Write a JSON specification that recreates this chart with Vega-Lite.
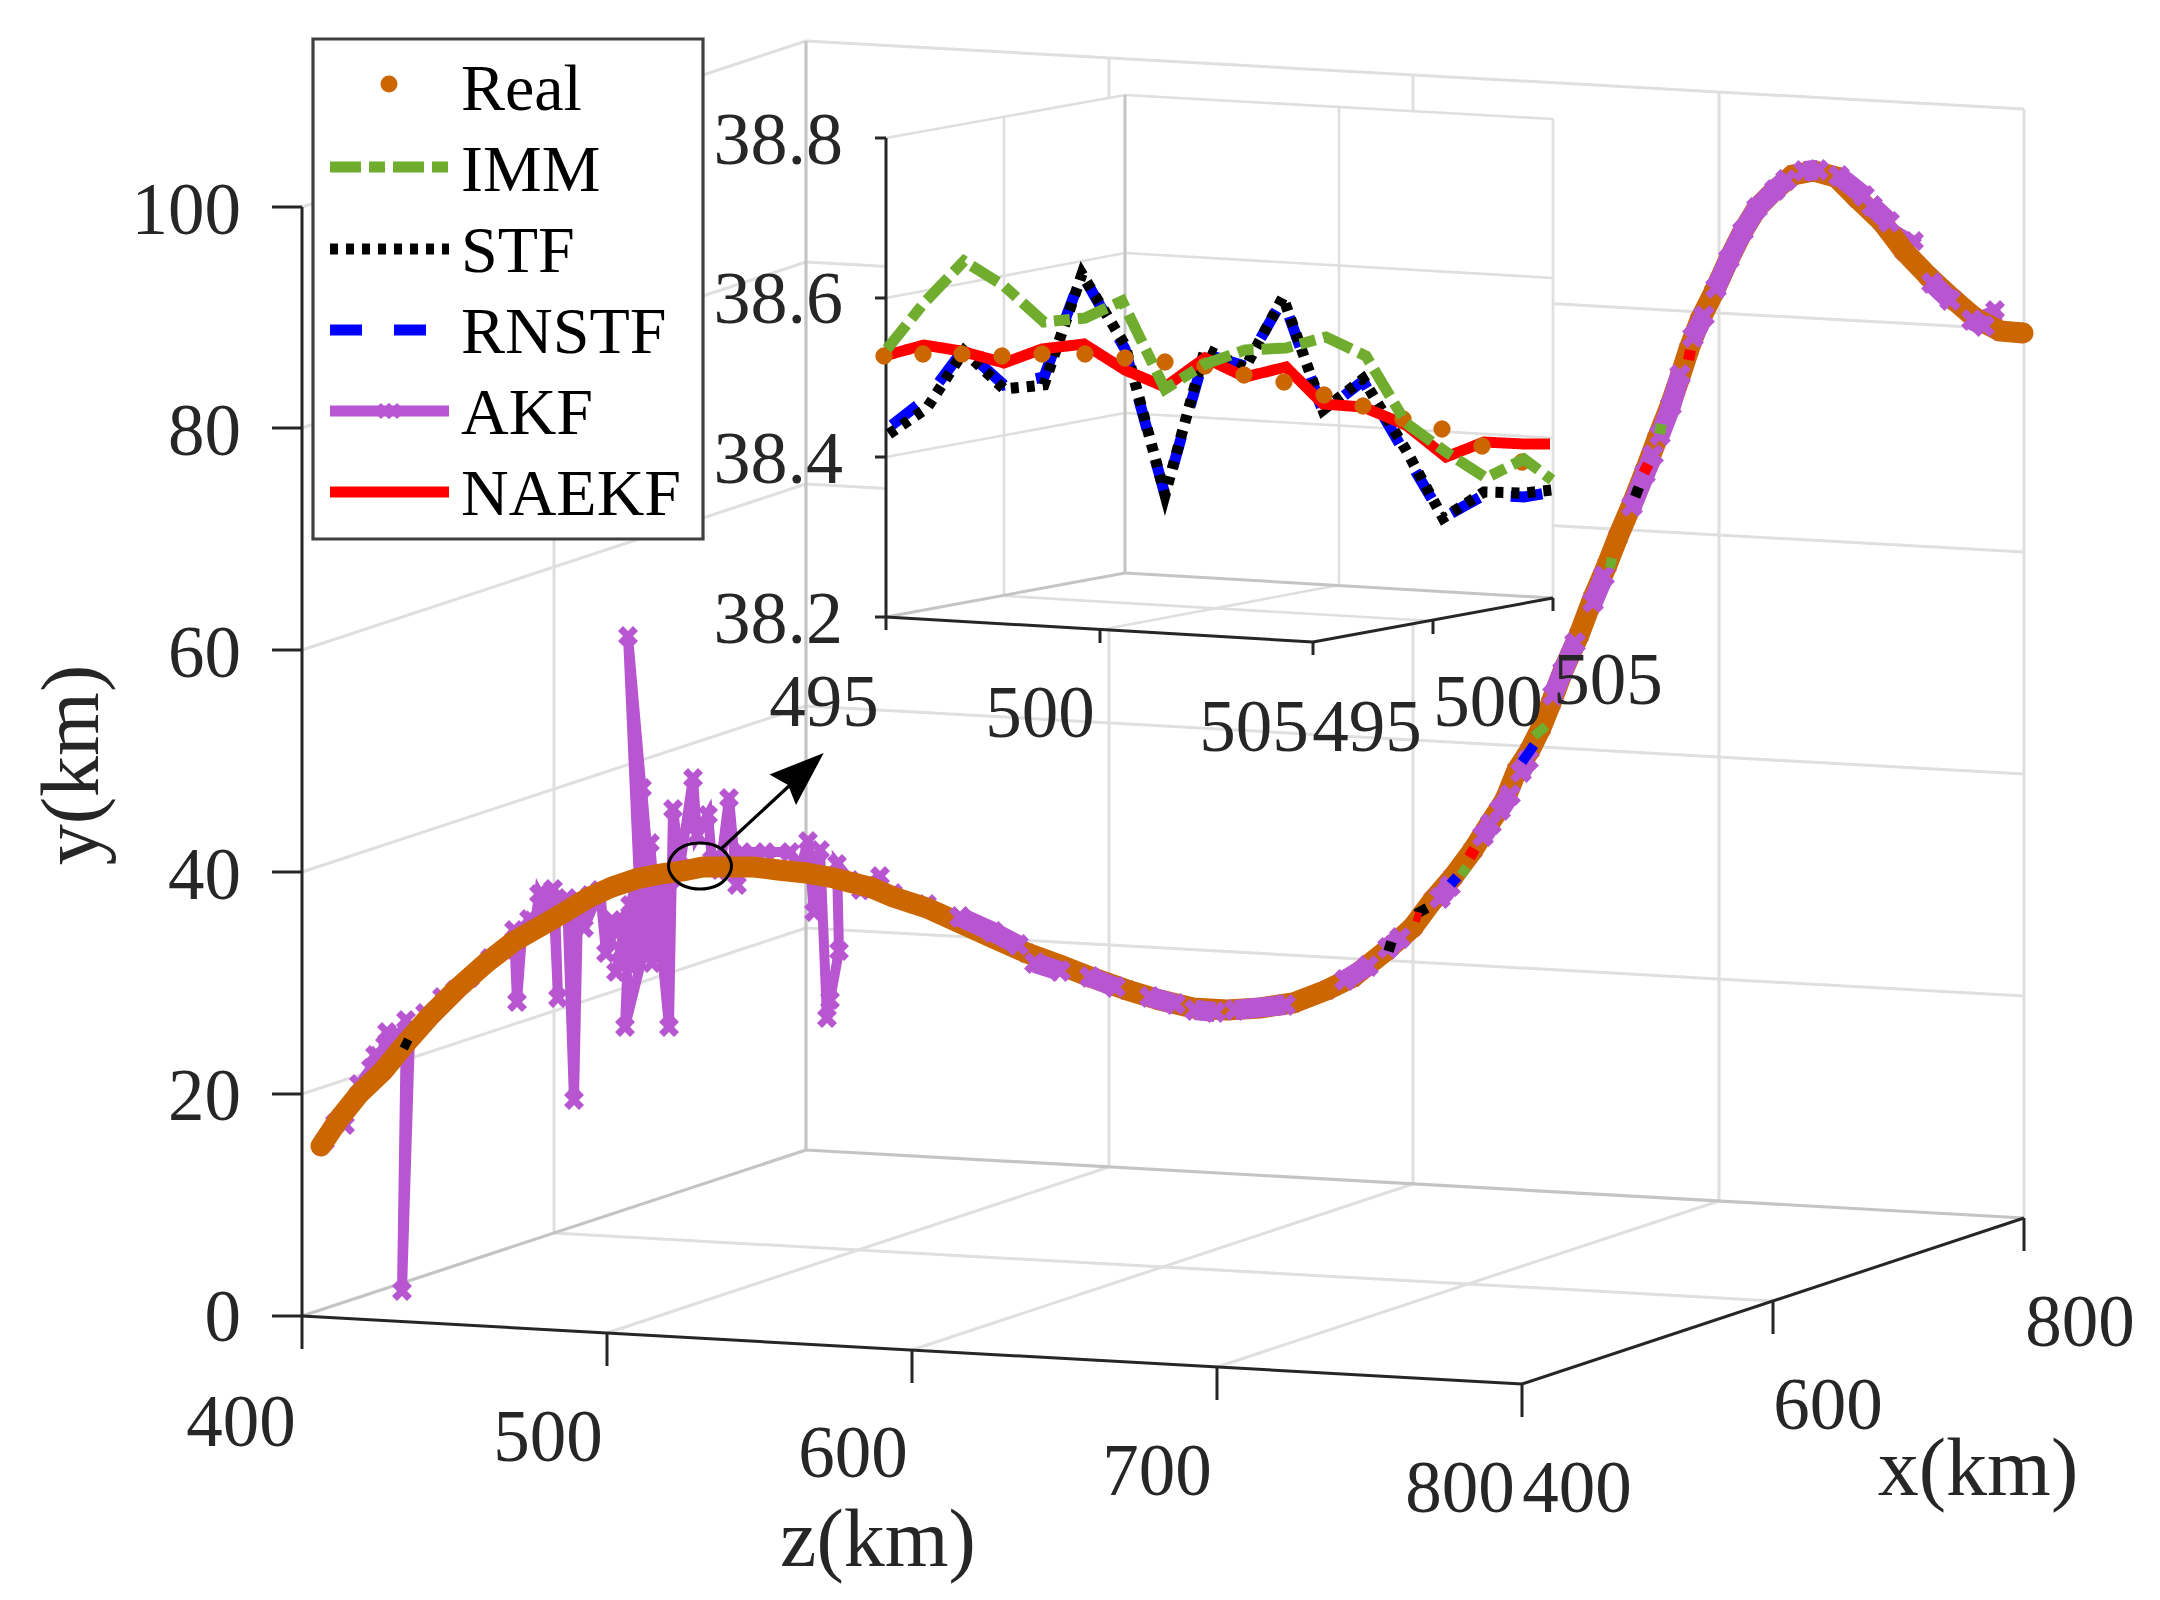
{"$schema":"https://vega.github.io/schema/vega-lite/v6.json","width":2160,"height":1600,"padding":0,"autosize":{"type":"fit","contains":"padding"},"background":"white","view":{"stroke":null},
"datasets":{
"grid":[{"u":302,"v":1094,"u2":806,"v2":928},{"u":302,"v":872,"u2":806,"v2":706},{"u":302,"v":650,"u2":806,"v2":484},{"u":302,"v":428,"u2":806,"v2":262},{"u":302,"v":207,"u2":806,"v2":41},{"u":806,"v":928,"u2":2024,"v2":996},{"u":806,"v":706,"u2":2024,"v2":774},{"u":806,"v":484,"u2":2024,"v2":552},{"u":806,"v":262,"u2":2024,"v2":330},{"u":806,"v":41,"u2":2024,"v2":109},{"u":554,"v":1233,"u2":554,"v2":124},{"u":1109,"v":1167,"u2":1109,"v2":58},{"u":1413,"v":1184,"u2":1413,"v2":75},{"u":1719,"v":1201,"u2":1719,"v2":92},{"u":2024,"v":1218,"u2":2024,"v2":109},{"u":554,"v":1233,"u2":1773,"v2":1301},{"u":607,"v":1333,"u2":1109,"v2":1167},{"u":912,"v":1350,"u2":1413,"v2":1184},{"u":1217,"v":1367,"u2":1719,"v2":1201}],
"edge":[{"u":302,"v":1316,"u2":806,"v2":1150},{"u":806,"v":1150,"u2":2024,"v2":1218},{"u":806,"v":1150,"u2":806,"v2":41}],
"axis":[{"u":302,"v":1316,"u2":302,"v2":207},{"u":302,"v":1316,"u2":1522,"v2":1384},{"u":1522,"v":1384,"u2":2024,"v2":1218},{"u":272,"v":1316,"u2":302,"v2":1316},{"u":272,"v":1094,"u2":302,"v2":1094},{"u":272,"v":872,"u2":302,"v2":872},{"u":272,"v":650,"u2":302,"v2":650},{"u":272,"v":428,"u2":302,"v2":428},{"u":272,"v":207,"u2":302,"v2":207},{"u":302,"v":1316,"u2":302,"v2":1349},{"u":607,"v":1333,"u2":607,"v2":1366},{"u":912,"v":1350,"u2":912,"v2":1383},{"u":1217,"v":1367,"u2":1217,"v2":1400},{"u":1522,"v":1384,"u2":1522,"v2":1417},{"u":1773,"v":1301,"u2":1773,"v2":1334},{"u":2024,"v":1218,"u2":2024,"v2":1251}],
"akf":[{"u":325,"v":1141},{"u":335,"v":1123},{"u":345,"v":1125},{"u":359,"v":1084},{"u":371,"v":1068},{"u":375,"v":1055},{"u":380,"v":1060},{"u":387,"v":1032},{"u":385,"v":1045},{"u":395,"v":1035},{"u":400,"v":1042},{"u":406,"v":1020},{"u":402,"v":1291},{"u":410,"v":1035},{"u":425,"v":1013},{"u":442,"v":997},{"u":455,"v":990},{"u":470,"v":978},{"u":490,"v":958},{"u":505,"v":950},{"u":514,"v":930},{"u":517,"v":1002},{"u":522,"v":935},{"u":529,"v":919},{"u":535,"v":925},{"u":539,"v":894},{"u":545,"v":905},{"u":548,"v":925},{"u":553,"v":889},{"u":558,"v":998},{"u":555,"v":905},{"u":560,"v":915},{"u":567,"v":898},{"u":574,"v":1100},{"u":578,"v":910},{"u":590,"v":895},{"u":584,"v":928},{"u":600,"v":890},{"u":606,"v":953},{"u":612,"v":920},{"u":610,"v":940},{"u":640,"v":890},{"u":622,"v":960},{"u":616,"v":972},{"u":625,"v":925},{"u":632,"v":945},{"u":660,"v":885},{"u":625,"v":1027},{"u":630,"v":905},{"u":636,"v":885},{"u":636,"v":963},{"u":645,"v":955},{"u":650,"v":885},{"u":628,"v":636},{"u":642,"v":950},{"u":640,"v":930},{"u":642,"v":788},{"u":655,"v":945},{"u":660,"v":955},{"u":650,"v":843},{"u":650,"v":920},{"u":652,"v":963},{"u":660,"v":930},{"u":670,"v":880},{"u":662,"v":953},{"u":669,"v":1027},{"u":673,"v":809},{"u":680,"v":866},{"u":693,"v":778},{"u":697,"v":835},{"u":708,"v":815},{"u":712,"v":860},{"u":720,"v":870},{"u":729,"v":798},{"u":737,"v":885},{"u":742,"v":852},{"u":765,"v":852},{"u":790,"v":852},{"u":800,"v":870},{"u":808,"v":841},{"u":814,"v":912},{"u":820,"v":850},{"u":827,"v":1018},{"u":830,"v":1000},{"u":839,"v":951},{"u":837,"v":864},{"u":850,"v":880},{"u":861,"v":890},{"u":880,"v":876},{"u":870,"v":890},{"u":893,"v":893},{"u":927,"v":904},{"u":960,"v":918},{"u":993,"v":932},{"u":1027,"v":953},{"u":1060,"v":970},{"u":1093,"v":978},{"u":1127,"v":990},{"u":1160,"v":1000},{"u":1193,"v":1008},{"u":1227,"v":1010},{"u":1260,"v":1008},{"u":1293,"v":1003},{"u":1327,"v":990},{"u":1353,"v":977},{"u":1387,"v":950},{"u":1413,"v":927},{"u":1433,"v":900},{"u":1453,"v":877},{"u":1473,"v":850},{"u":1490,"v":823},{"u":1505,"v":800},{"u":1517,"v":770},{"u":1530,"v":750},{"u":1541,"v":728},{"u":1551,"v":703},{"u":1563,"v":671},{"u":1579,"v":635},{"u":1593,"v":598},{"u":1607,"v":565},{"u":1618,"v":537},{"u":1632,"v":504},{"u":1645,"v":471},{"u":1657,"v":439},{"u":1670,"v":406},{"u":1680,"v":377},{"u":1689,"v":349},{"u":1700,"v":320},{"u":1714,"v":292},{"u":1729,"v":259},{"u":1743,"v":231},{"u":1757,"v":208},{"u":1775,"v":190},{"u":1793,"v":175},{"u":1814,"v":171},{"u":1836,"v":177},{"u":1857,"v":198},{"u":1882,"v":222},{"u":1914,"v":241},{"u":1904,"v":251},{"u":1929,"v":277},{"u":1954,"v":300},{"u":1975,"v":318},{"u":1995,"v":310},{"u":2000,"v":331},{"u":2018,"v":332}],
"real":[{"u":321,"v":1146},{"u":339,"v":1119},{"u":359,"v":1094},{"u":383,"v":1071},{"u":406,"v":1043},{"u":430,"v":1016},{"u":458,"v":988},{"u":486,"v":963},{"u":513,"v":942},{"u":541,"v":926},{"u":565,"v":912},{"u":588,"v":898},{"u":612,"v":887},{"u":636,"v":879},{"u":660,"v":874},{"u":683,"v":871},{"u":703,"v":867},{"u":727,"v":867},{"u":754,"v":867},{"u":778,"v":870},{"u":806,"v":873},{"u":834,"v":878},{"u":861,"v":885},{"u":870,"v":887},{"u":893,"v":897},{"u":927,"v":908},{"u":960,"v":923},{"u":993,"v":938},{"u":1027,"v":953},{"u":1060,"v":965},{"u":1093,"v":978},{"u":1127,"v":990},{"u":1160,"v":1000},{"u":1193,"v":1008},{"u":1227,"v":1010},{"u":1260,"v":1008},{"u":1293,"v":1003},{"u":1327,"v":990},{"u":1353,"v":977},{"u":1387,"v":950},{"u":1413,"v":927},{"u":1433,"v":900},{"u":1453,"v":877},{"u":1473,"v":850},{"u":1490,"v":823},{"u":1505,"v":800},{"u":1517,"v":770},{"u":1530,"v":750},{"u":1541,"v":728},{"u":1551,"v":703},{"u":1563,"v":671},{"u":1579,"v":635},{"u":1593,"v":598},{"u":1607,"v":565},{"u":1618,"v":537},{"u":1632,"v":504},{"u":1645,"v":471},{"u":1657,"v":439},{"u":1670,"v":406},{"u":1680,"v":377},{"u":1689,"v":349},{"u":1700,"v":320},{"u":1714,"v":292},{"u":1729,"v":259},{"u":1743,"v":231},{"u":1757,"v":208},{"u":1775,"v":190},{"u":1793,"v":175},{"u":1814,"v":171},{"u":1836,"v":177},{"u":1857,"v":198},{"u":1882,"v":222},{"u":1904,"v":251},{"u":1929,"v":277},{"u":1954,"v":300},{"u":1975,"v":318},{"u":2000,"v":331},{"u":2023,"v":333}],
"patches":[{"g":"a","u":960,"v":917},{"g":"a","u":993,"v":932},{"g":"a","u":1018,"v":945},{"g":"b","u":1035,"v":963},{"g":"b","u":1060,"v":971},{"g":"c","u":1090,"v":977},{"g":"c","u":1115,"v":987},{"g":"d","u":1150,"v":997},{"g":"d","u":1175,"v":1004},{"g":"e","u":1195,"v":1010},{"g":"e","u":1215,"v":1012},{"g":"f","u":1235,"v":1010},{"g":"f","u":1285,"v":1005},{"g":"g","u":1345,"v":980},{"g":"g","u":1368,"v":966},{"g":"h","u":1388,"v":948},{"g":"h","u":1400,"v":938},{"g":"i","u":1440,"v":898},{"g":"i","u":1450,"v":886},{"g":"j","u":1483,"v":836},{"g":"j","u":1491,"v":824},{"g":"k","u":1500,"v":810},{"g":"k","u":1510,"v":795},{"g":"l","u":1521,"v":772},{"g":"l","u":1528,"v":760},{"g":"m","u":1553,"v":695},{"g":"m","u":1563,"v":671},{"g":"m","u":1575,"v":643},{"g":"n","u":1593,"v":602},{"g":"n","u":1604,"v":576},{"g":"o","u":1632,"v":506},{"g":"o","u":1645,"v":474},{"g":"o","u":1653,"v":455},{"g":"p","u":1660,"v":435},{"g":"p","u":1671,"v":406},{"g":"p","u":1680,"v":375},{"g":"q","u":1693,"v":337},{"g":"q","u":1704,"v":316},{"g":"r","u":1716,"v":288},{"g":"r","u":1729,"v":259},{"g":"r","u":1743,"v":231},{"g":"r","u":1757,"v":208},{"g":"r","u":1775,"v":190},{"g":"r","u":1786,"v":180},{"g":"s","u":1804,"v":171},{"g":"s","u":1818,"v":170},{"g":"t","u":1839,"v":176},{"g":"t","u":1864,"v":196},{"g":"u","u":1872,"v":206},{"g":"u","u":1889,"v":222},{"g":"v","u":1932,"v":283},{"g":"v","u":1950,"v":300},{"g":"w","u":1972,"v":320},{"g":"w","u":1984,"v":326}],
"flecks":[{"s":"IMM","u":1534,"v":736,"u2":1546,"v2":726},{"s":"RNSTF","u":1522,"v":762,"u2":1534,"v2":745},{"s":"NAEKF","u":1467,"v":850,"u2":1477,"v2":856},{"s":"RNSTF","u":1450,"v":877,"u2":1458,"v2":884},{"s":"IMM","u":1460,"v":868,"u2":1468,"v2":874},{"s":"STF","u":1416,"v":914,"u2":1427,"v2":908},{"s":"NAEKF","u":1414,"v":916,"u2":1421,"v2":918},{"s":"STF","u":1385,"v":945,"u2":1395,"v2":948},{"s":"NAEKF","u":1684,"v":354,"u2":1695,"v2":356},{"s":"NAEKF","u":1641,"v":466,"u2":1651,"v2":471},{"s":"STF","u":1632,"v":490,"u2":1642,"v2":494},{"s":"IMM","u":1606,"v":562,"u2":1616,"v2":564},{"s":"IMM","u":1655,"v":428,"u2":1666,"v2":430},{"s":"STF","u":402,"v":1042,"u2":410,"v2":1046}],
"curves":[
{"p":"inset","s":"RNSTF","u":892,"v":425},{"p":"inset","s":"RNSTF","u":927,"v":398},{"p":"inset","s":"RNSTF","u":964,"v":349},{"p":"inset","s":"RNSTF","u":1004,"v":385},{"p":"inset","s":"RNSTF","u":1044,"v":377},{"p":"inset","s":"RNSTF","u":1082,"v":274},{"p":"inset","s":"RNSTF","u":1125,"v":349},{"p":"inset","s":"RNSTF","u":1165,"v":495},{"p":"inset","s":"RNSTF","u":1205,"v":354},{"p":"inset","s":"RNSTF","u":1245,"v":366},{"p":"inset","s":"RNSTF","u":1283,"v":299},{"p":"inset","s":"RNSTF","u":1323,"v":412},{"p":"inset","s":"RNSTF","u":1363,"v":381},{"p":"inset","s":"RNSTF","u":1406,"v":455},{"p":"inset","s":"RNSTF","u":1443,"v":518},{"p":"inset","s":"RNSTF","u":1484,"v":495},{"p":"inset","s":"RNSTF","u":1524,"v":497},{"p":"inset","s":"RNSTF","u":1552,"v":492},
{"p":"inset","s":"STF","u":889,"v":434},{"p":"inset","s":"STF","u":927,"v":408},{"p":"inset","s":"STF","u":964,"v":351},{"p":"inset","s":"STF","u":1004,"v":389},{"p":"inset","s":"STF","u":1044,"v":385},{"p":"inset","s":"STF","u":1082,"v":274},{"p":"inset","s":"STF","u":1125,"v":345},{"p":"inset","s":"STF","u":1165,"v":495},{"p":"inset","s":"STF","u":1205,"v":349},{"p":"inset","s":"STF","u":1245,"v":368},{"p":"inset","s":"STF","u":1283,"v":297},{"p":"inset","s":"STF","u":1323,"v":410},{"p":"inset","s":"STF","u":1363,"v":379},{"p":"inset","s":"STF","u":1406,"v":450},{"p":"inset","s":"STF","u":1443,"v":518},{"p":"inset","s":"STF","u":1484,"v":492},{"p":"inset","s":"STF","u":1524,"v":493},{"p":"inset","s":"STF","u":1552,"v":490},
{"p":"inset","s":"NAEKF","u":884,"v":356},{"p":"inset","s":"NAEKF","u":924,"v":345},{"p":"inset","s":"NAEKF","u":961,"v":351},{"p":"inset","s":"NAEKF","u":1004,"v":363},{"p":"inset","s":"NAEKF","u":1042,"v":349},{"p":"inset","s":"NAEKF","u":1084,"v":344},{"p":"inset","s":"NAEKF","u":1125,"v":370},{"p":"inset","s":"NAEKF","u":1165,"v":387},{"p":"inset","s":"NAEKF","u":1205,"v":358},{"p":"inset","s":"NAEKF","u":1245,"v":377},{"p":"inset","s":"NAEKF","u":1286,"v":367},{"p":"inset","s":"NAEKF","u":1323,"v":404},{"p":"inset","s":"NAEKF","u":1363,"v":407},{"p":"inset","s":"NAEKF","u":1406,"v":425},{"p":"inset","s":"NAEKF","u":1446,"v":457},{"p":"inset","s":"NAEKF","u":1484,"v":442},{"p":"inset","s":"NAEKF","u":1524,"v":444},{"p":"inset","s":"NAEKF","u":1550,"v":444},
{"p":"legend","s":"STF","u":330,"v":249},{"p":"legend","s":"STF","u":449,"v":249},{"p":"legend","s":"RNSTF","u":330,"v":330},{"p":"legend","s":"RNSTF","u":449,"v":330},{"p":"legend","s":"AKF","u":330,"v":411},{"p":"legend","s":"AKF","u":449,"v":411},{"p":"legend","s":"NAEKF","u":330,"v":492},{"p":"legend","s":"NAEKF","u":449,"v":492}],
"imm":[{"p":"inset","s":"IMM","u":887,"v":349},{"p":"inset","s":"IMM","u":924,"v":303},{"p":"inset","s":"IMM","u":964,"v":261},{"p":"inset","s":"IMM","u":1004,"v":286},{"p":"inset","s":"IMM","u":1044,"v":322},{"p":"inset","s":"IMM","u":1085,"v":318},{"p":"inset","s":"IMM","u":1122,"v":301},{"p":"inset","s":"IMM","u":1165,"v":389},{"p":"inset","s":"IMM","u":1205,"v":364},{"p":"inset","s":"IMM","u":1245,"v":350},{"p":"inset","s":"IMM","u":1286,"v":348},{"p":"inset","s":"IMM","u":1326,"v":337},{"p":"inset","s":"IMM","u":1366,"v":356},{"p":"inset","s":"IMM","u":1406,"v":423},{"p":"inset","s":"IMM","u":1446,"v":452},{"p":"inset","s":"IMM","u":1486,"v":478},{"p":"inset","s":"IMM","u":1524,"v":459},{"p":"inset","s":"IMM","u":1552,"v":480},{"p":"legend","s":"IMM","u":330,"v":167},{"p":"legend","s":"IMM","u":449,"v":167}],
"insetReal":[{"u":884,"v":356},{"u":923,"v":354},{"u":962,"v":354},{"u":1002,"v":356},{"u":1042,"v":354},{"u":1085,"v":354},{"u":1125,"v":358},{"u":1165,"v":362},{"u":1205,"v":366},{"u":1244,"v":375},{"u":1284,"v":382},{"u":1324,"v":395},{"u":1363,"v":406},{"u":1403,"v":419},{"u":1442,"v":429},{"u":1482,"v":446},{"u":1522,"v":462}],
"ellipse":[{"u":731.5,"v":866},{"u":727,"v":877.5},{"u":716,"v":886},{"u":700,"v":889},{"u":684,"v":886},{"u":673,"v":877.5},{"u":668.5,"v":866},{"u":673,"v":854.5},{"u":684,"v":846},{"u":700,"v":843},{"u":716,"v":846},{"u":727,"v":854.5}],
"iback":[{"u":886,"v":138,"v2":617},{"u":1125,"v":95,"v2":631},{"u":1313,"v":106,"v2":642},{"u":1553,"v":119,"v2":598}],
"igrid":[{"u":886,"v":457,"u2":1125,"v2":413},{"u":886,"v":298,"u2":1125,"v2":253},{"u":886,"v":138,"u2":1125,"v2":95},{"u":1125,"v":413,"u2":1553,"v2":438},{"u":1125,"v":253,"u2":1553,"v2":278},{"u":1125,"v":95,"u2":1553,"v2":119},{"u":1004,"v":596,"u2":1004,"v2":116},{"u":1339,"v":585,"u2":1339,"v2":107},{"u":1553,"v":598,"u2":1553,"v2":119},{"u":1005,"v":596,"u2":1433,"v2":621},{"u":1100,"v":630,"u2":1339,"v2":585}],
"iedge":[{"u":886,"v":617,"u2":1125,"v2":573},{"u":1125,"v":573,"u2":1553,"v2":598},{"u":1125,"v":573,"u2":1125,"v2":95}],
"iaxis":[{"u":886,"v":617,"u2":886,"v2":138},{"u":886,"v":617,"u2":1313,"v2":642},{"u":1313,"v":642,"u2":1553,"v2":598},{"u":875,"v":617,"u2":886,"v2":617},{"u":875,"v":457,"u2":886,"v2":457},{"u":875,"v":298,"u2":886,"v2":298},{"u":875,"v":138,"u2":886,"v2":138},{"u":886,"v":617,"u2":886,"v2":630},{"u":1100,"v":630,"u2":1100,"v2":643},{"u":1313,"v":642,"u2":1313,"v2":655},{"u":1433,"v":621,"u2":1433,"v2":634},{"u":1553,"v":598,"u2":1553,"v2":611}],
"arrowShaft":[{"u":721,"v":849,"u2":802,"v2":774}],
"arrowHead":[{"u":795,"v":780}],
"legendBox":[{"u":313,"v":39,"u2":703,"v2":539}],
"legendReal":[{"u":389,"v":84}],
"legendAkf":[{"u":385,"v":411},{"u":393,"v":411}],
"tickRight":[{"t":"100","u":241,"v":234},{"t":"80","u":241,"v":455},{"t":"60","u":241,"v":677},{"t":"40","u":241,"v":899},{"t":"20","u":241,"v":1120},{"t":"0","u":241,"v":1341}],
"insetRight":[{"t":"38.8","u":843,"v":164},{"t":"38.6","u":843,"v":323},{"t":"38.4","u":843,"v":483},{"t":"38.2","u":843,"v":643}],
"tickCenter":[{"t":"400","u":241,"v":1446},{"t":"500","u":548,"v":1461},{"t":"600","u":853,"v":1477},{"t":"700","u":1157,"v":1495},{"t":"800","u":1460,"v":1512},{"t":"400","u":1577,"v":1512},{"t":"600","u":1828,"v":1429},{"t":"800","u":2080,"v":1346},{"t":"495","u":824,"v":726},{"t":"500","u":1040,"v":737},{"t":"505","u":1254,"v":751},{"t":"495","u":1367,"v":751},{"t":"500","u":1488,"v":726},{"t":"505","u":1608,"v":704}],
"labels":[{"t":"z(km)","u":878,"v":1566},{"t":"x(km)","u":1978,"v":1495}],
"ylabel":[{"t":"y(km)","u":98,"v":765}],
"legendText":[{"t":"Real","u":461,"v":110},{"t":"IMM","u":461,"v":191},{"t":"STF","u":461,"v":272},{"t":"RNSTF","u":461,"v":353},{"t":"AKF","u":461,"v":434},{"t":"NAEKF","u":461,"v":515}]
},
"encoding":{"x":{"field":"u","type":"quantitative","scale":{"domain":[0,2160],"nice":false,"zero":false},"axis":null},"y":{"field":"v","type":"quantitative","scale":{"domain":[1600,0],"nice":false,"zero":false},"axis":null}},
"layer":[
{"data":{"name":"grid"},"mark":{"type":"rule","color":"#dfdfdf","strokeWidth":3},"encoding":{"x2":{"field":"u2"},"y2":{"field":"v2"}}},
{"data":{"name":"edge"},"mark":{"type":"rule","color":"#c4c4c4","strokeWidth":3.2},"encoding":{"x2":{"field":"u2"},"y2":{"field":"v2"}}},
{"data":{"name":"axis"},"mark":{"type":"rule","color":"#262626","strokeWidth":3},"encoding":{"x2":{"field":"u2"},"y2":{"field":"v2"}}},
{"data":{"name":"akf"},"mark":{"type":"line","color":"#B856D2","strokeWidth":10,"strokeJoin":"miter"},"encoding":{"order":{"value":null}}},
{"data":{"name":"akf"},"mark":{"type":"point","filled":true,"opacity":1,"color":"#B856D2","size":400,"shape":"M-1,-0.5L-0.5,-1L0,-0.5L0.5,-1L1,-0.5L0.5,0L1,0.5L0.5,1L0,0.5L-0.5,1L-1,0.5L-0.5,0Z"}},
{"data":{"name":"real"},"mark":{"type":"line","color":"#CC6600","strokeWidth":21,"strokeCap":"round"},"encoding":{"order":{"value":null}}},
{"data":{"name":"real"},"mark":{"type":"point","filled":true,"opacity":1,"color":"#CC6600","shape":"circle","size":400}},
{"data":{"name":"patches"},"mark":{"type":"line","color":"#B856D2","strokeWidth":20},"encoding":{"detail":{"field":"g"},"order":{"value":null}}},
{"data":{"name":"patches"},"mark":{"type":"point","filled":true,"opacity":1,"color":"#B856D2","size":480,"shape":"M-1,-0.5L-0.5,-1L0,-0.5L0.5,-1L1,-0.5L0.5,0L1,0.5L0.5,1L0,0.5L-0.5,1L-1,0.5L-0.5,0Z"}},
{"data":{"name":"flecks"},"mark":{"type":"rule","strokeWidth":10},"encoding":{"x2":{"field":"u2"},"y2":{"field":"v2"},"color":{"field":"s","type":"nominal","legend":null,"scale":{"domain":["Real","IMM","STF","RNSTF","AKF","NAEKF"],"range":["#CC6600","#70AD2F","#000000","#0000FF","#B856D2","#FF0000"]}}}},
{"data":{"name":"ellipse"},"mark":{"type":"line","color":"#000000","strokeWidth":3,"interpolate":"cardinal-closed"},"encoding":{"order":{"value":null}}},
{"data":{"name":"arrowShaft"},"mark":{"type":"rule","color":"#000000","strokeWidth":3.2},"encoding":{"x2":{"field":"u2"},"y2":{"field":"v2"}}},
{"data":{"name":"arrowHead"},"mark":{"type":"point","filled":true,"opacity":1,"color":"#000000","size":3600,"shape":"M0.957,-0.9L-0.85,-0.183L-0.233,0.167L0.033,0.833Z"}},
{"data":{"name":"legendBox"},"mark":{"type":"rect","fill":"white","stroke":"#404040","strokeWidth":3.2},"encoding":{"x2":{"field":"u2"},"y2":{"field":"v2"}}},
{"data":{"name":"iback"},"mark":{"type":"area","color":"white","opacity":1},"encoding":{"y2":{"field":"v2"},"order":{"value":null}}},
{"data":{"name":"igrid"},"mark":{"type":"rule","color":"#dfdfdf","strokeWidth":2.6},"encoding":{"x2":{"field":"u2"},"y2":{"field":"v2"}}},
{"data":{"name":"iedge"},"mark":{"type":"rule","color":"#c4c4c4","strokeWidth":3},"encoding":{"x2":{"field":"u2"},"y2":{"field":"v2"}}},
{"data":{"name":"iaxis"},"mark":{"type":"rule","color":"#262626","strokeWidth":3},"encoding":{"x2":{"field":"u2"},"y2":{"field":"v2"}}},
{"data":{"name":"curves"},"mark":{"type":"line"},"encoding":{"order":{"value":null},"detail":{"field":"p"},"color":{"field":"s","type":"nominal","legend":null,"scale":{"domain":["Real","IMM","STF","RNSTF","AKF","NAEKF"],"range":["#CC6600","#70AD2F","#000000","#0000FF","#B856D2","#FF0000"]}},"strokeDash":{"field":"s","type":"nominal","legend":null,"scale":{"domain":["IMM","STF","RNSTF","AKF","NAEKF"],"range":[[31,8,16,8],[8,8],[32,32],[1,0],[1,0]]}},"strokeWidth":{"field":"s","type":"nominal","legend":null,"scale":{"domain":["IMM","STF","RNSTF","AKF","NAEKF"],"range":[11,11,11,8,11]}}}},
{"data":{"name":"insetReal"},"mark":{"type":"point","filled":true,"opacity":1,"color":"#CC6600","shape":"circle","size":300}},
{"data":{"name":"legendReal"},"mark":{"type":"point","filled":true,"opacity":1,"color":"#CC6600","shape":"circle","size":290}},
{"data":{"name":"legendAkf"},"mark":{"type":"point","filled":true,"opacity":1,"color":"#B856D2","size":260,"shape":"M-1,-0.5L-0.5,-1L0,-0.5L0.5,-1L1,-0.5L0.5,0L1,0.5L0.5,1L0,0.5L-0.5,1L-1,0.5L-0.5,0Z"}},
{"data":{"name":"imm"},"mark":{"type":"line","color":"#70AD2F","strokeWidth":11,"strokeDash":[31,8,16,8]},"encoding":{"detail":{"field":"p"},"order":{"value":null}}},
{"data":{"name":"tickRight"},"mark":{"type":"text","font":"Liberation Serif","fontSize":73,"color":"#262626","align":"right","baseline":"alphabetic"},"encoding":{"text":{"field":"t"}}},
{"data":{"name":"insetRight"},"mark":{"type":"text","font":"Liberation Serif","fontSize":74,"color":"#262626","align":"right","baseline":"alphabetic"},"encoding":{"text":{"field":"t"}}},
{"data":{"name":"tickCenter"},"mark":{"type":"text","font":"Liberation Serif","fontSize":73,"color":"#262626","align":"center","baseline":"alphabetic"},"encoding":{"text":{"field":"t"}}},
{"data":{"name":"labels"},"mark":{"type":"text","font":"Liberation Serif","fontSize":82,"color":"#262626","align":"center","baseline":"alphabetic"},"encoding":{"text":{"field":"t"}}},
{"data":{"name":"ylabel"},"mark":{"type":"text","font":"Liberation Serif","fontSize":82,"color":"#262626","align":"center","baseline":"alphabetic","angle":270},"encoding":{"text":{"field":"t"}}},
{"data":{"name":"legendText"},"mark":{"type":"text","font":"Liberation Serif","fontSize":66,"color":"#000000","align":"left","baseline":"alphabetic"},"encoding":{"text":{"field":"t"}}}
]}
